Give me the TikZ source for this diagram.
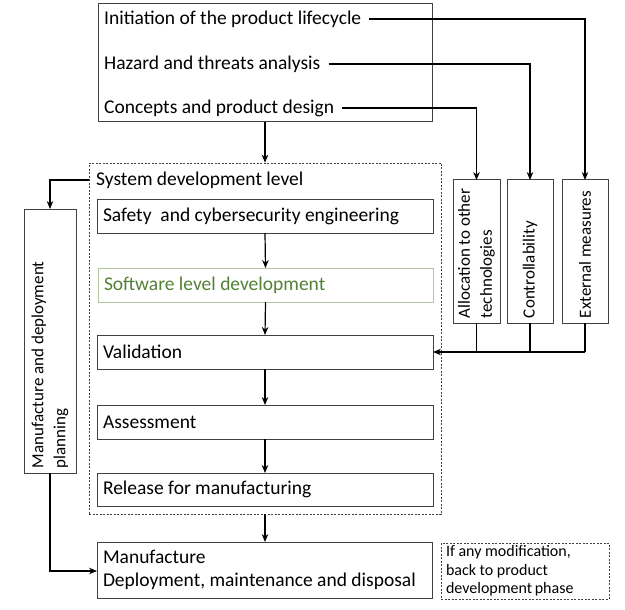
\documentclass[tikz,border=0pt]{standalone}
\usepackage{fontspec}
\setmainfont{Carlito}
\usetikzlibrary{arrows.meta}
\definecolor{boxline}{HTML}{404040}
\definecolor{swline}{HTML}{B4C7A0}
\definecolor{swtext}{HTML}{538135}
\begin{document}
\begin{tikzpicture}[x=1pt,y=-1pt,
  font=\fontsize{19.5}{23}\selectfont,
  box/.style={draw=boxline, line width=1pt, inner sep=0pt, outer sep=0pt},
  lbox/.style={box, align=flush left, inner xsep=6pt, text width=#1},
  vbox/.style={box, rotate=90, align=flush left, inner xsep=5pt, text width=#1, font=\fontsize{17}{22}\selectfont},
  txt/.style={inner sep=0pt, anchor=west},
  arr/.style={-{Stealth[length=8pt,width=6.5pt]}, line width=1.2pt, black},
  ln/.style={line width=1.2pt, black},
  dbox/.style={draw=boxline, dashed, dash pattern=on 2pt off 1.5pt, line width=0.7pt, inner sep=0pt}]
\useasboundingbox (0,0) rectangle (625,610);

% top box
\node[box, minimum width=334, minimum height=118] (top) at (265,63) {};
\node[txt] (init) at (104,19) {Initiation of the product lifecycle};
\node[txt] (hazard) at (104,64) {Hazard and threats analysis};
\node[txt] (concepts) at (104,108) {Concepts and product design};

% dashed system box
\node[dbox, minimum width=352, minimum height=351] (sys) at (265,338.5) {};
\node[txt] (syslabel) at (96,180) {System development level};

% vertical boxes
\node[vbox=133, minimum height=47] (alloc) at (476.5,251.5) {Allocation to other\\technologies};
\node[vbox=133, minimum height=46] (ctrl) at (530,251.5) {Controllability};
\node[vbox=133, minimum height=46] (ext) at (585,251.5) {External measures};

% planning box
\node[vbox=254, minimum height=52] (plan) at (50,341) {Manufacture and deployment\\planning};

% inner boxes
\node[lbox=324, minimum height=33, anchor=west] (safety) at (97,216.5) {Safety\ \ and cybersecurity engineering};
\node[lbox=323, minimum height=34, anchor=west, draw=swline, text=swtext] (sw) at (98,285) {Software level development};
\node[lbox=324, minimum height=34, anchor=west] (valid) at (97,352) {Validation};
\node[lbox=324, minimum height=34, anchor=west] (assess) at (97,422) {Assessment};
\node[lbox=324, minimum height=33, anchor=west] (release) at (97,489.5) {Release for manufacturing};

% manufacture box
\node[lbox=323, minimum height=56, anchor=west] (manuf) at (97,570) {Manufacture\\Deployment, maintenance and disposal};

% note box
\node[dbox, minimum width=168, minimum height=56, align=flush left, text width=158, inner xsep=5pt, font=\fontsize{16}{18.5}\selectfont] (note) at (525,571) {If any modification,\\back to product\\development\,phase};

% connectors
\draw[arr] (top.south) -- (sys.north);
\draw[arr] (safety.south) -- (sw.north);
\draw[arr] (sw.south) -- (valid.north);
\draw[arr] (valid.south) -- (assess.north);
\draw[arr] (assess.south) -- (release.north);
\draw[arr] (sys.south) -- (sys.south |- manuf.north);

\draw[arr] ([xshift=8pt]init.east) -| (ext.east);
\draw[arr] ([xshift=8pt]hazard.east) -| (ctrl.east);
\draw[arr] ([xshift=8pt]concepts.east) -| (alloc.east);

\coordinate (join) at (585,352);
\draw[ln] (ext.west) -- (join);
\draw[ln] (ctrl.west) -- (ctrl.west |- join);
\draw[ln] (alloc.west) -- (alloc.west |- join);
\draw[arr] (join) -- (valid.east);

\draw[arr] (sys.west |- syslabel) -| (plan.east);
\draw[arr] (plan.west) |- (manuf.west |- 0,571);
\end{tikzpicture}
\end{document}
